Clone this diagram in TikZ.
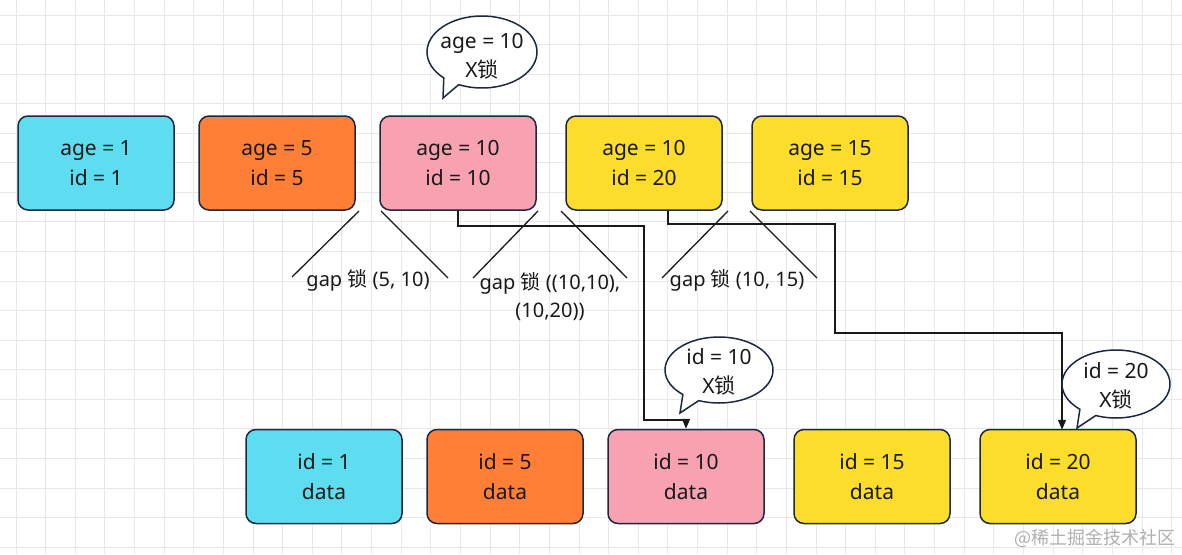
\documentclass[tikz,border=0pt]{standalone}
\usepackage{fontspec}
\setmainfont{Noto Sans}
\newfontfamily\cjk{Noto Sans CJK SC}
\usetikzlibrary{arrows.meta}
\definecolor{cyanc}{RGB}{94,221,240}
\definecolor{orangec}{RGB}{255,127,55}
\definecolor{pinkc}{RGB}{247,161,177}
\definecolor{yellowc}{RGB}{253,221,43}
\definecolor{boxline}{RGB}{28,40,66}
\definecolor{txt}{RGB}{25,25,25}
\definecolor{gridc}{RGB}{232,232,232}
\definecolor{wmark}{RGB}{175,175,175}
\tikzset{
  box/.style={draw=boxline, line width=1.5pt, rounded corners=10pt,
    minimum width=156pt, minimum height=94pt, align=center, inner sep=0pt,
    text=txt, font=\fontsize{21}{30}\selectfont},
  lbl/.style={align=center, inner sep=0pt, text=txt, font=\fontsize{20}{28}\selectfont},
  gapline/.style={line width=1.3pt, draw=txt},
  conn/.style={line width=1.3pt, draw=txt, -{Triangle[length=10pt,width=8pt]}},
  bubble/.style={draw=boxline, line width=1.5pt, fill=white},
  btext/.style={align=center, inner sep=0pt, text=txt, font=\fontsize{21}{29}\selectfont}
}
\begin{document}
\begin{tikzpicture}[x=1pt,y=-1pt]
\useasboundingbox (0,0) rectangle (1182,554);
\fill[white] (0,0) rectangle (1182,554);
% grid
\foreach \i in {0,...,39} {\draw[gridc, line width=0.9pt] (16+\i*29.63,0) -- (16+\i*29.63,554);}
\foreach \j in {0,...,18} {\draw[gridc, line width=0.9pt] (0,15+\j*29.56) -- (1182,15+\j*29.56);}

% top boxes
\node[box, fill=cyanc]   (a1) at (96,163)  {age = 1\\id = 1};
\node[box, fill=orangec] (a2) at (277,163) {age = 5\\id = 5};
\node[box, fill=pinkc]   (a3) at (458,163) {age = 10\\id = 10};
\node[box, fill=yellowc] (a4) at (644,163) {age = 10\\id = 20};
\node[box, fill=yellowc] (a5) at (830,163) {age = 15\\id = 15};

% bottom boxes
\node[box, fill=cyanc]   (b1) at (324,476.5)  {id = 1\\data};
\node[box, fill=orangec] (b2) at (505,476.5)  {id = 5\\data};
\node[box, fill=pinkc]   (b3) at (686,476.5)  {id = 10\\data};
\node[box, fill=yellowc] (b4) at (872,476.5)  {id = 15\\data};
\node[box, fill=yellowc] (b5) at (1058,476.5) {id = 20\\data};

% gap lines
\draw[gapline] (359,211) -- (292,277);
\draw[gapline] (381,211) -- (448,278);
\node[lbl] (g1) at (368,280) {gap {\cjk 锁} (5, 10)};
\draw[gapline] (538,211) -- (473,278);
\draw[gapline] (561,211) -- (627,278);
\node[lbl] (g2) at (550,297) {gap {\cjk 锁} ((10,10),\\(10,20))};
\draw[gapline] (728,211) -- (662,278);
\draw[gapline] (750,211) -- (817,278);
\node[lbl] (g3) at (737,280) {gap {\cjk 锁} (10, 15)};

% connectors
\coordinate (c1) at (458,226);
\coordinate (c2) at (644,420);
\draw[conn] (a3.south) -- (c1) -| (c2) -| (b3.north);
\coordinate (d0) at (668,210.75);
\coordinate (d1) at (668,224);
\coordinate (d2) at (835,333);
\coordinate (d3) at (1062,429.75);
\draw[conn] (d0) -- (d1) -| (d2) -| (d3);

% bubbles
\draw[bubble] (482,52) ++(134:55 and 36) arc[start angle=134, end angle=475, x radius=55, y radius=36] -- (443,98) -- cycle;
\node[btext] (t1) at (482,56) {age = 10\\X{\cjk 锁}};
\draw[bubble] (719,370) ++(132:54 and 33) arc[start angle=132, end angle=472, x radius=54, y radius=33] -- (680,413) -- cycle;
\node[btext] (t2) at (719,372) {id = 10\\X{\cjk 锁}};
\draw[bubble] (1116,384) ++(132:54 and 34) arc[start angle=132, end angle=472, x radius=54, y radius=34] -- (1077,428) -- cycle;
\node[btext] (t3) at (1116,386) {id = 20\\X{\cjk 锁}};

% watermark
\node[inner sep=0pt, text=wmark, font=\cjk\fontsize{18}{20}\selectfont] (wm) at (1095,538) {@稀土掘金技术社区};
\end{tikzpicture}
\end{document}
